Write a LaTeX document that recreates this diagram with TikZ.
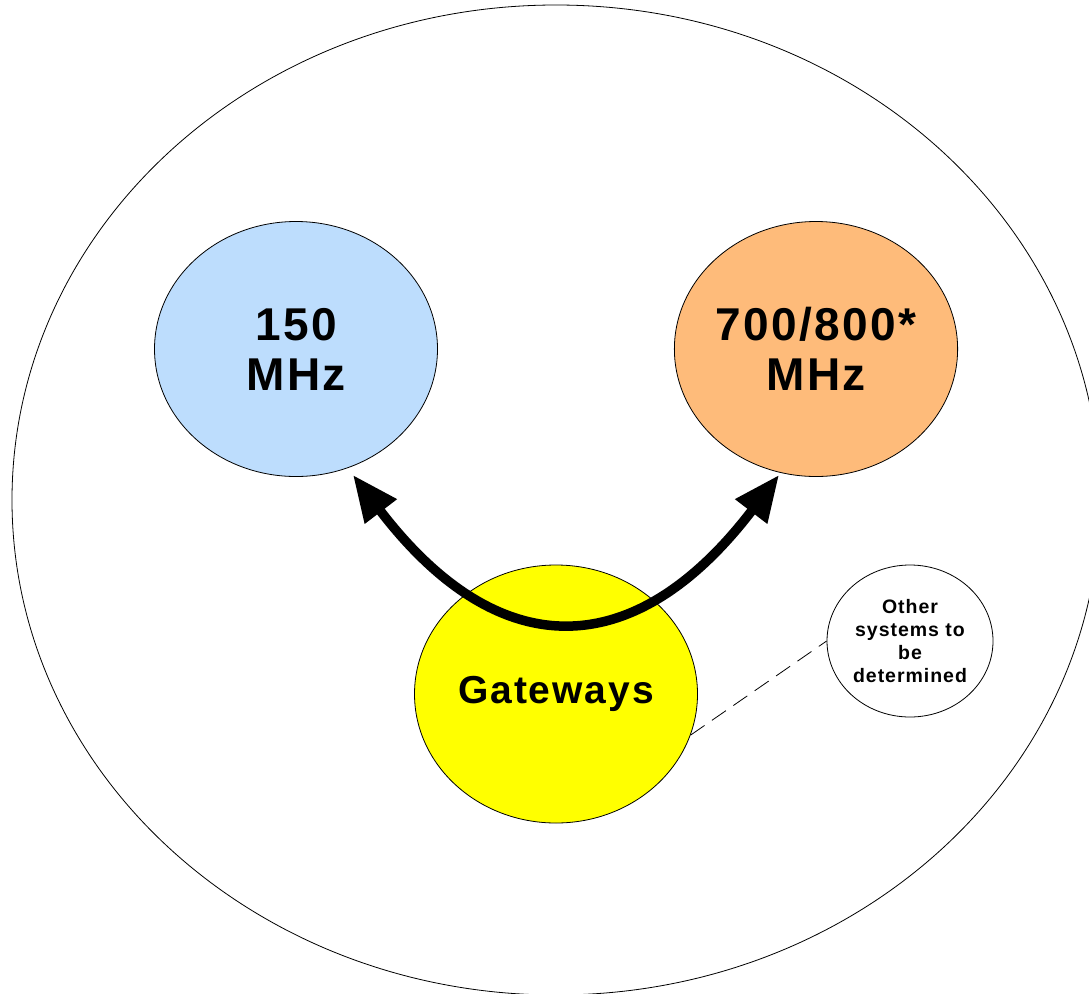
\documentclass[tikz,border=0pt]{standalone}
\usepackage{fontspec}
\setmainfont{Liberation Sans}[LetterSpace=5]
\usetikzlibrary{positioning,arrows.meta,shapes.geometric}
\usepackage{xcolor}
\definecolor{lowband}{RGB}{189,221,253}
\definecolor{highband}{RGB}{254,187,122}
\definecolor{gwfill}{RGB}{255,255,0}

\begin{document}
\begin{tikzpicture}[x=1pt, y=-1pt,
  band/.style={draw, ellipse, line width=0.8pt, inner sep=0pt,
    minimum width=283pt, minimum height=255pt,
    font=\fontsize{46}{50}\selectfont\bfseries, align=center},
  small/.style={draw, ellipse, line width=0.8pt, inner sep=0pt,
    minimum width=166pt, minimum height=152pt,
    font=\fontsize{19.5}{23}\selectfont\bfseries, align=center},
  gwlink/.style={line width=9.5pt, {Triangle[length=46pt,width=38pt]}-{Triangle[length=46pt,width=38pt]}},
  tbd/.style={line width=0.8pt, dash pattern=on 17pt off 9pt}
]
  \useasboundingbox (0,0) rectangle (1089,993);
  \begin{scope}
    \clip (0,0) rectangle (1089,993);
    \draw[line width=0.8pt] (556,500) ellipse [x radius=544, y radius=495];
  \end{scope}

  \node[band, fill=lowband] (low) at (296,349) {150\\MHz};
  \node[band, fill=highband] (high) at (816,349) {700/800*\\MHz};
  \node[band, fill=gwfill, minimum height=258pt,
    font=\fontsize{39}{44}\selectfont\bfseries] (gw) at (556,694) {Gateways};
  \node[small] (other) at (910,641) {Other\\systems to\\be\\determined};

  \draw[gwlink] ([shift={(57,126)}]low.center) .. controls +(145,190) and +(-145,190)
    .. ([shift={(-37,126)}]high.center);
  \draw[tbd] (gw.-17) -- (other.west);
\end{tikzpicture}
\end{document}
